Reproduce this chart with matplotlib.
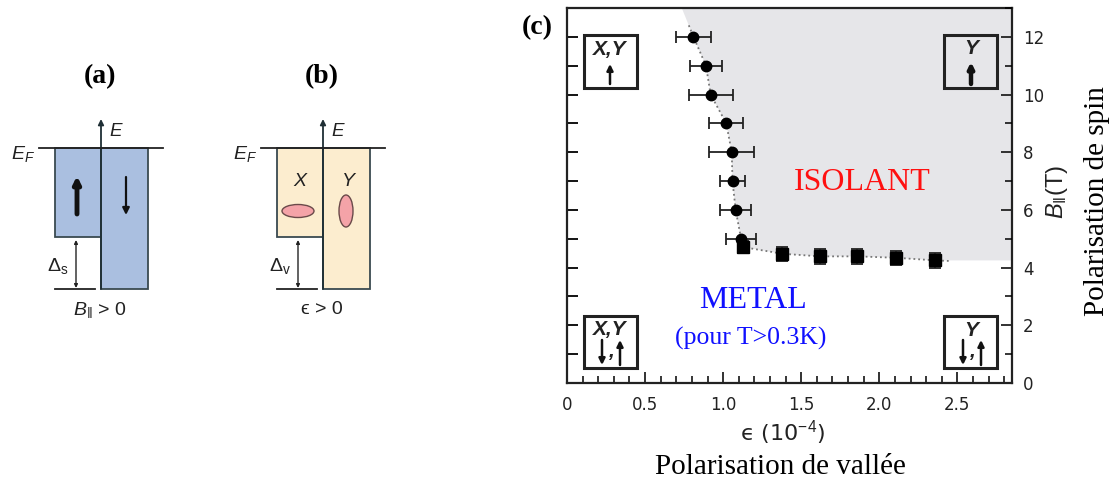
import matplotlib
matplotlib.use("Agg")
import matplotlib.pyplot as plt
from matplotlib.patches import Rectangle, Ellipse, FancyArrowPatch
from matplotlib.ticker import MultipleLocator, FixedLocator, FixedFormatter

plt.rcParams['font.family'] = ['Liberation Sans', 'DejaVu Sans']
plt.rcParams['mathtext.fontset'] = 'custom'
plt.rcParams['mathtext.rm'] = 'Liberation Sans'
plt.rcParams['mathtext.it'] = 'Liberation Sans:italic'
plt.rcParams['mathtext.bf'] = 'Liberation Sans:bold'

# ---------------- data (panel c) ----------------
circ_eps = [0.81, 0.89, 0.92, 1.02, 1.055, 1.06, 1.08, 1.115]
circ_B = [12.0, 11.0, 10.0, 9.0, 8.0, 7.0, 6.0, 5.0]
circ_xerr = [0.11, 0.10, 0.14, 0.11, 0.145, 0.08, 0.10, 0.096]

sq_eps = [1.13, 1.38, 1.62, 1.86, 2.11, 2.36]
sq_B = [4.71, 4.48, 4.39, 4.39, 4.34, 4.25]
sq_yerr = [0.22, 0.25, 0.25, 0.25, 0.25, 0.25]

# boundary extrapolation ends (top of the frame / right of the frame)
bound_top = (0.735, 13.0)
fit_top = (0.78, 12.4)
fit_end = (2.45, 4.23)

x_ticks = [0, 0.5, 1.0, 1.5, 2.0, 2.5]
x_tick_labels = ['0', '0.5', '1.0', '1.5', '2.0', '2.5']
y_ticks = [0, 2, 4, 6, 8, 10, 12]
y_tick_labels = ['0', '2', '4', '6', '8', '10', '12']
xlim = (0, 2.85)
ylim = (0, 13)

W, H = 1113, 483
fig = plt.figure(figsize=(W / 100, H / 100), dpi=100)

L, R, T, B = 567, 1012, 8, 383
ax = fig.add_axes([L / W, 1 - B / H, (R - L) / W, (B - T) / H])
ax.set_xlim(*xlim)
ax.set_ylim(*ylim)

# shaded insulating region
px = [bound_top[0]] + circ_eps + sq_eps + [xlim[1], xlim[1]]
py = [bound_top[1]] + circ_B + sq_B + [sq_B[-1], ylim[1]]
ax.fill(px, py, color='#e6e6e9', lw=0, zorder=0)

# dotted fit line
fx = [fit_top[0]] + circ_eps + sq_eps + [fit_end[0]]
fy = [fit_top[1]] + circ_B + sq_B + [fit_end[1]]
ax.plot(fx, fy, ls=':', color='#777777', lw=1.3, zorder=1)

ax.errorbar(circ_eps, circ_B, xerr=circ_xerr, fmt='o', color='black', ms=7.5,
            ecolor='#222222', elinewidth=1.3, capsize=4, capthick=1.3, zorder=3)
ax.errorbar(sq_eps, sq_B, yerr=sq_yerr, fmt='s', color='black', ms=8,
            ecolor='#222222', elinewidth=1.3, capsize=4.5, capthick=1.3, zorder=3)

for s in ax.spines.values():
    s.set_linewidth(1.6)
    s.set_color('#222222')

tick_font = 'DejaVu Sans'
ax.xaxis.set_major_locator(FixedLocator(x_ticks))
ax.xaxis.set_major_formatter(FixedFormatter(x_tick_labels))
ax.xaxis.set_minor_locator(MultipleLocator(0.1))
ax.yaxis.set_major_locator(MultipleLocator(1))
ax.tick_params(axis='x', which='major', direction='in', length=8, width=1.3,
               labelsize=12, pad=9, colors='#222222', top=False)
ax.tick_params(axis='x', which='minor', direction='in', length=5, width=1.1, top=False)
ax.tick_params(axis='y', which='major', direction='in', length=8, width=1.3,
               labelleft=False, right=False)
for lab in ax.get_xticklabels():
    lab.set_family(tick_font)

ax2 = ax.twinx()
ax2.set_ylim(*ylim)
ax2.yaxis.set_major_locator(FixedLocator(y_ticks))
ax2.yaxis.set_major_formatter(FixedFormatter(y_tick_labels))
ax2.yaxis.set_minor_locator(MultipleLocator(1))
ax2.tick_params(axis='y', which='major', direction='in', length=8, width=1.3,
                labelsize=12, pad=8, colors='#222222')
ax2.tick_params(axis='y', which='minor', direction='in', length=5, width=1.1)
for lab in ax2.get_yticklabels():
    lab.set_family(tick_font)
for s in ax2.spines.values():
    s.set_visible(False)

# ---------------- overlay in pixel coordinates ----------------
ov = fig.add_axes([0, 0, 1, 1], facecolor='none')
ov.set_xlim(0, W)
ov.set_ylim(H, 0)
ov.axis('off')

serif = 'Liberation Serif'

ov.text(783, 433, 'ϵ (10$^{-4}$)', ha='center', va='center',
        fontsize=16, family=['DejaVu Sans'], color='#222222')
ov.text(862, 183, 'ISOLANT', color='#ff1010', fontsize=23, family=serif, ha='center', va='center')
ov.text(753, 301, 'METAL', color='#1010ff', fontsize=23, family=serif, ha='center', va='center')
ov.text(751, 338, '(pour T>0.3K)', color='#1010ff', fontsize=18.5, family=serif, ha='center', va='center')
ov.text(537, 28, '(c)', fontsize=20, family=serif, weight='bold', ha='center', va='center')
ov.text(780, 467, 'Polarisation de vallée', fontsize=21, family=serif, ha='center', va='center')
ov.text(1097, 201, 'Polarisation de spin', fontsize=21, family=serif, ha='center', va='center', rotation=90)
ov.text(1057, 192, r'$B_{\Vert}$(T)', fontsize=17, ha='center', va='center', rotation=90, color='#222222')


def arrow(x0, y0, x1, y1, lw=1.5, ms=10, color='#111111'):
    ov.add_patch(FancyArrowPatch((x0, y0), (x1, y1), arrowstyle='-|>', mutation_scale=ms,
                                 lw=lw, color=color, shrinkA=0, shrinkB=0))


def box(x0, y0, x1, y1):
    ov.add_patch(Rectangle((x0, y0), x1 - x0, y1 - y0, fill=False, lw=2.2, ec='#222222'))


bstyle = dict(fontsize=15, weight='bold', style='italic', ha='center', va='center', color='#222222')
# top-left box
box(584, 35, 637, 88)
ov.text(610, 50, 'X,Y', **bstyle)
arrow(610, 84, 610, 64, lw=1.8, ms=9)
# top-right box
box(944, 35, 997, 88)
ov.text(971, 49, 'Y', **bstyle)
arrow(971, 84, 971, 62, lw=3.2, ms=8)
# bottom-left box
box(584, 316, 637, 368)
ov.text(610, 330, 'X,Y', **bstyle)
arrow(602, 340, 602, 365, lw=1.8, ms=9)
ov.text(611, 352, ',', **bstyle)
arrow(620, 365, 620, 340, lw=1.8, ms=9)
# bottom-right box
box(944, 316, 997, 368)
ov.text(971, 330, 'Y', **bstyle)
arrow(963, 340, 963, 365, lw=1.8, ms=9)
ov.text(972, 352, ',', **bstyle)
arrow(981, 365, 981, 340, lw=1.8, ms=9)

# ---------------- panels (a) and (b) ----------------
edge = '#3a4a50'


def panel(dx, label, fill, sub_label, bottom_label):
    ov.text(100 + dx, 77, label, fontsize=20, family=serif, weight='bold', ha='center', va='center')
    ov.add_patch(Rectangle((55 + dx, 147.7), 46, 89.3, fc=fill, ec=edge, lw=1.3))
    ov.add_patch(Rectangle((101 + dx, 147.7), 47, 141.3, fc=fill, ec=edge, lw=1.3))
    ov.plot([39 + dx, 163 + dx], [147.7, 147.7], color='#222222', lw=1.3)
    arrow(101 + dx, 289, 101 + dx, 119, lw=1.3, ms=8, color='#1f2f35')
    ov.text(116 + dx, 131, 'E', fontsize=13.5, style='italic', ha='center', va='center', color='#222222')
    ov.text(23 + dx, 154, r'$E_F$', fontsize=14, ha='center', va='center', color='#222222')
    ov.plot([55 + dx, 95 + dx], [289, 289], color='#222222', lw=1.3)
    ov.add_patch(FancyArrowPatch((76 + dx, 240), (76 + dx, 288), arrowstyle='<|-|>',
                                 mutation_scale=5, lw=1.0, color='#222222', shrinkA=0, shrinkB=0))
    ov.text(58 + dx, 266, sub_label, fontsize=14, ha='center', va='center', color='#222222')
    ov.text(100 + dx, 310, bottom_label, fontsize=14, ha='center', va='center', color='#222222')


panel(0, '(a)', '#aabfe0', r'$\mathrm{\Delta}_\mathrm{s}$', r'$B_{\Vert}$ > 0')
panel(222, '(b)', '#fcedcf', r'$\mathrm{\Delta}_\mathrm{v}$', 'ϵ > 0')

# spin arrows
arrow(77, 214, 77, 176, lw=3.5, ms=10)
arrow(126, 177, 126, 215, lw=1.6, ms=10)
# valleys
ov.text(300, 182, 'X', fontsize=14, style='italic', ha='center', va='center', color='#222222')
ov.text(348, 182, 'Y', fontsize=14, style='italic', ha='center', va='center', color='#222222')
ov.add_patch(Ellipse((298, 211), 32, 13, fc='#f4a3a8', ec='#6a4a4a', lw=1.0))
ov.add_patch(Ellipse((346, 211), 14, 32, fc='#f4a3a8', ec='#6a4a4a', lw=1.0))

fig.savefig('out.png', dpi=100)
